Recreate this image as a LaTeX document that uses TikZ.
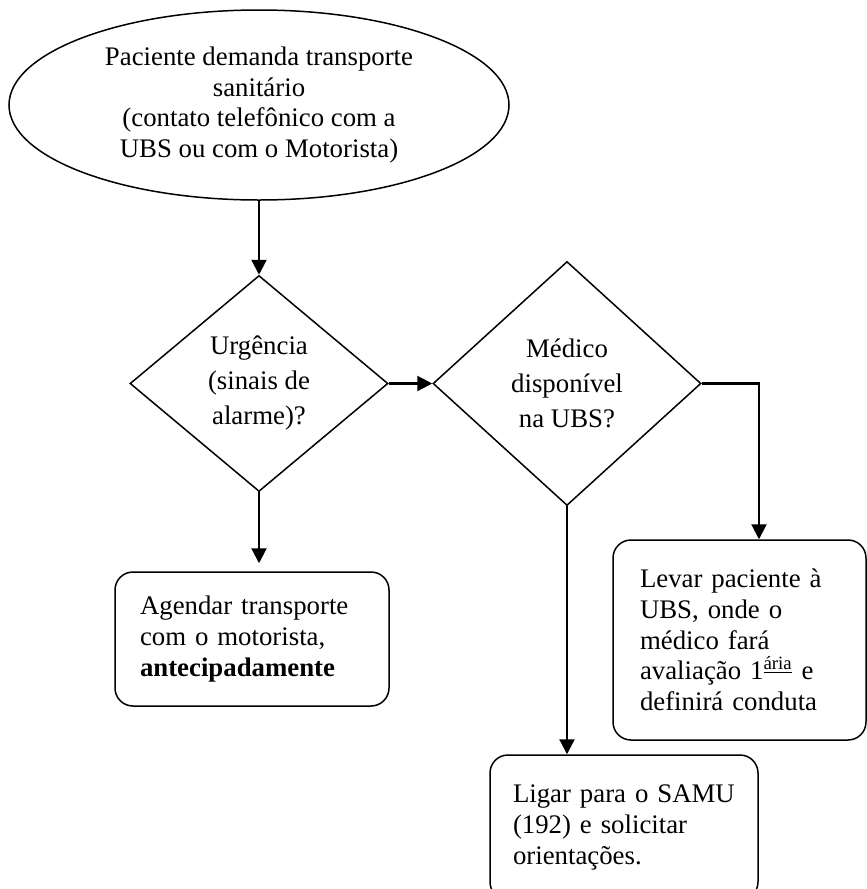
\documentclass[tikz,border=0pt]{standalone}
\usepackage{fontspec}
\setmainfont{Liberation Serif}
\usetikzlibrary{shapes.geometric,arrows.meta}

\begin{document}
\begin{tikzpicture}[x=0.5pt,y=-0.5pt,
    every node/.style={font=\fontsize{13.4}{15.3}\selectfont},
    start node/.style={ellipse,draw,line width=0.75pt,inner sep=0pt,align=center,
      minimum width=250pt,minimum height=95pt},
    decision node/.style={diamond,draw,line width=0.75pt,inner sep=0pt,align=center,
      font=\fontsize{13.4}{17.5}\selectfont},
    action node/.style={draw,line width=0.75pt,rounded corners=9pt,align=left,inner ysep=0pt},
    flow/.style={-{Triangle[length=7.5pt,width=7.5pt]},line width=1.1pt}]
    \useasboundingbox (0,0) rectangle (867,889);
    \clip (0,0) rectangle (867,889);

    \node[start node] (pac) at (259,105) {Paciente demanda transporte\\sanit\'ario\\(contato telef\^onico com a\\UBS ou com o Motorista)};

    \node[decision node,minimum width=129pt,minimum height=108pt] (urg) at (259,383.5) {Urg\^encia\\(sinais de\\alarme)?};
    \node[decision node,minimum width=134pt,minimum height=122pt] (med) at (567,383.5) {M\'edico\\dispon\'ivel\\na UBS?};

    \node[action node,inner xsep=12.5pt,text width=112pt,minimum height=67pt] (agendar) at (252,639)
      {Agendar transporte\\com o motorista,\\\textbf{antecipadamente}};
    \node[action node,inner xsep=13.5pt,text width=99.5pt,minimum height=100pt] (levar) at (739.5,640)
      {Levar paciente \`a\\UBS, onde o\\m\'edico far\'a\\avalia\c{c}\~ao 1\textsuperscript{\underline{\'aria}} e\\definir\'a conduta};
    \node[action node,inner xsep=11.5pt,text width=111pt,minimum height=72.5pt] (samu) at (624,827.5)
      {Ligar para o SAMU\\(192) e solicitar\\orienta\c{c}\~oes.};

    \coordinate (turn) at (759,383.5);

    \path[flow]
    (pac.south) edge (urg.north)
    (urg.east) edge (med.west)
    (urg.south) edge[shorten >=4pt] (urg.south |- agendar.north)
    (med.south) edge (med.south |- samu.north);

    \draw[flow] (med.east) -- (turn) -- (turn |- levar.north);
\end{tikzpicture}
\end{document}
